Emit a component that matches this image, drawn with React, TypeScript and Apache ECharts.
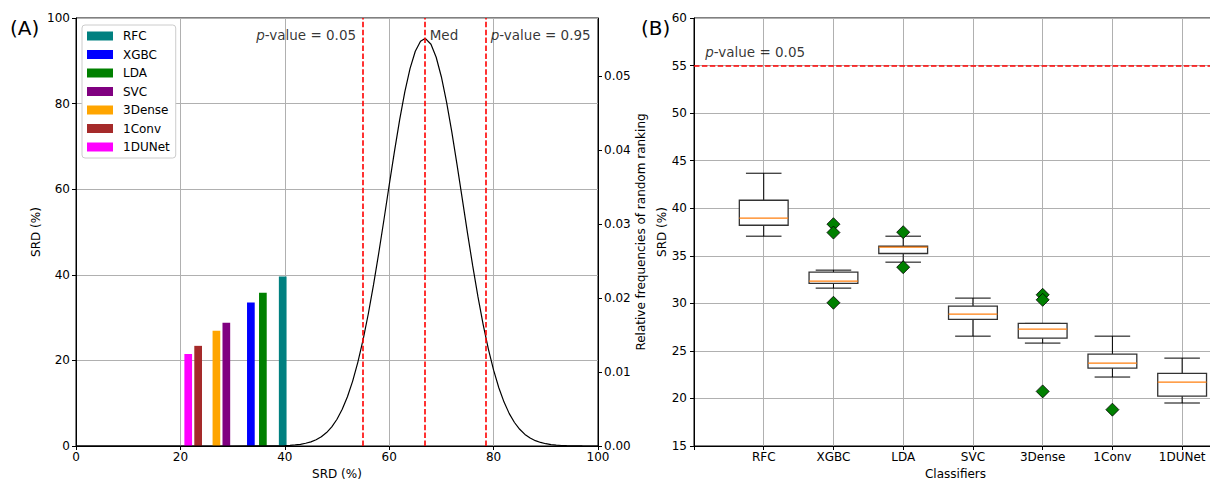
import React, { useEffect, useRef } from "react";
import * as echarts from "echarts";

// ---------- data ----------
const classifiers = ["RFC", "XGBC", "LDA", "SVC", "3Dense", "1Conv", "1DUNet"];
const barColors = ["#008080", "#0000ff", "#008000", "#800080", "#ffa500", "#a52a2a", "#ff00ff"];
const meanSRD = [39.6, 33.5, 35.8, 28.8, 26.9, 23.4, 21.5];

// random ranking distribution
const curveX = [0, 30, 36, 40, 41, 42, 43, 44, 45, 46, 47, 48, 49, 50, 51, 52, 53, 54, 55, 56, 57, 58, 59, 60, 61, 62, 63, 64, 65, 66, 66.8, 67, 68, 69, 70, 71, 72, 73, 74, 75, 76, 77, 78, 79, 80, 81, 82, 83, 84, 85, 86, 87, 88, 89, 90, 91, 92, 93, 94, 97, 100];
const curveY = [0, 0, 0.00001, 0.00005, 0.00009, 0.00015, 0.00023, 0.00037, 0.00056, 0.00085, 0.00126, 0.00182, 0.00259, 0.00362, 0.00496, 0.00666, 0.00878, 0.01135, 0.01439, 0.01789, 0.02182, 0.02611, 0.03064, 0.03528, 0.03983, 0.04412, 0.04794, 0.05109, 0.0534, 0.05476, 0.0551, 0.05508, 0.05435, 0.05259, 0.04992, 0.04648, 0.04245, 0.03803, 0.03342, 0.0288, 0.02436, 0.0202, 0.01643, 0.01311, 0.01026, 0.00788, 0.00594, 0.00438, 0.00318, 0.00226, 0.00157, 0.00108, 0.00072, 0.00048, 0.00031, 0.00019, 0.00012, 0.00007, 0.00004, 0.00001, 0];
const pLines = [55, 66.8, 78.5];

// box plot stats per classifier
const whiskerLow = [37.06, 31.6, 34.33, 26.55, 25.82, 22.25, 19.52];
const q1 = [38.21, 32.09, 35.24, 28.31, 26.34, 23.19, 20.25];
const median = [38.95, 32.33, 35.9, 28.87, 27.29, 23.72, 21.72];
const q3 = [40.84, 33.28, 36.0, 29.71, 27.89, 24.66, 22.63];
const whiskerHigh = [43.68, 33.49, 37.06, 30.55, 27.89, 26.55, 24.24];
const outlierIdx = [2, 2, 2, 3, 3, 5, 5, 5, 6];
const outlierVal = [38.32, 37.44, 30.06, 37.48, 33.8, 30.9, 30.37, 20.74, 18.82];
const pThreshold = 55;

const FONT = "DejaVu Sans";

export default function App() {
  const ref = useRef<HTMLDivElement>(null);
  useEffect(() => {
    if (!ref.current) return;
    const chart = echarts.init(ref.current, undefined, { renderer: "svg" });

    const axisCommon = {
      axisLine: { show: true, onZero: false, lineStyle: { color: "#000", width: 1 } },
      axisTick: { show: true, length: 4, lineStyle: { color: "#000", width: 1 } },
      axisLabel: { color: "#000", fontSize: 12, fontFamily: FONT },
      nameTextStyle: { color: "#000", fontSize: 12, fontFamily: FONT },
      splitLine: { show: true, lineStyle: { color: "#b0b0b0", width: 1 } },
    };
    const bottomName = { color: "#000", fontSize: 12, fontFamily: FONT, lineHeight: 12 };

    const richP = {
      i: { fontStyle: "italic", fontSize: 13.5, fontFamily: FONT, color: "#000" },
      n: { fontSize: 13.5, fontFamily: FONT, color: "#000" },
    };

    const barSeries = classifiers.map((c, i) => ({
      name: c,
      type: "bar",
      xAxisIndex: 0,
      yAxisIndex: 0,
      barWidth: 7.7,
      barGap: "-100%",
      itemStyle: { color: barColors[i] },
      data: [[meanSRD[i], meanSRD[i]]],
      z: 3,
    }));

    const boxData = classifiers.map((_, i) => [i + 1, whiskerLow[i], q1[i], median[i], q3[i], whiskerHigh[i]]);

    const option: any = {
      animation: false,
      textStyle: { fontFamily: FONT },
      grid: [
        { left: 76, top: 18, width: 522, height: 428, show: true, borderColor: "#000", borderWidth: 1, outerBoundsMode: "none", containLabel: false },
        { left: 694, top: 18, width: 523, height: 428, show: true, borderColor: "#000", borderWidth: 1, outerBoundsMode: "none", containLabel: false },
      ],
      legend: {
        data: classifiers,
        orient: "vertical",
        left: 82,
        top: 25,
        padding: [5, 6, 5, 5],
        itemWidth: 26,
        itemHeight: 9,
        itemGap: 6.5,
        icon: "rect",
        selectedMode: false,
        backgroundColor: "#fff",
        borderColor: "#cccccc",
        borderWidth: 1,
        borderRadius: 3,
        textStyle: { color: "#000", fontSize: 12, fontFamily: FONT, padding: [0, 0, 0, 5] },
      },
      xAxis: [
        {
          ...axisCommon,
          type: "value",
          gridIndex: 0,
          min: 0,
          max: 100,
          interval: 20,
          name: "SRD (%)",
          nameLocation: "middle",
          nameGap: 14,
          nameTextStyle: bottomName,
          axisLabel: { ...axisCommon.axisLabel, margin: 5 },
        },
        {
          ...axisCommon,
          type: "value",
          gridIndex: 1,
          min: 0,
          max: 7.5,
          interval: 1,
          name: "Classifiers",
          nameLocation: "middle",
          nameGap: 14,
          nameTextStyle: bottomName,
          axisLabel: {
            ...axisCommon.axisLabel,
            margin: 5,
            formatter: (v: number) => (Number.isInteger(v) && v >= 1 && v <= 7 ? classifiers[v - 1] : ""),
          },
        },
      ],
      yAxis: [
        {
          ...axisCommon,
          type: "value",
          gridIndex: 0,
          min: 0,
          max: 100,
          interval: 20,
          name: "SRD (%)",
          nameLocation: "middle",
          nameGap: 34,
          axisLabel: { ...axisCommon.axisLabel, margin: 6 },
        },
        {
          ...axisCommon,
          type: "value",
          gridIndex: 0,
          position: "right",
          min: 0,
          max: 0.0579,
          interval: 0.01,
          name: "Relative frequencies of random ranking",
          nameLocation: "middle",
          nameGap: 37,
          splitLine: { show: false },
          axisLabel: {
            ...axisCommon.axisLabel,
            margin: 6,
            showMaxLabel: false,
            formatter: (v: number) => v.toFixed(2),
          },
        },
        {
          ...axisCommon,
          type: "value",
          gridIndex: 1,
          min: 15,
          max: 60,
          interval: 5,
          name: "SRD (%)",
          nameLocation: "middle",
          nameGap: 22,
          axisLabel: { ...axisCommon.axisLabel, margin: 7 },
        },
      ],
      graphic: [
        { type: "text", left: 10, top: 18, style: { text: "(A)", fontSize: 20, fontFamily: FONT, fill: "#000" } },
        { type: "text", left: 641, top: 18, style: { text: "(B)", fontSize: 20, fontFamily: FONT, fill: "#000" } },
      ],
      series: [
        ...barSeries,
        {
          name: "random",
          type: "line",
          xAxisIndex: 0,
          yAxisIndex: 1,
          data: curveX.map((x, i) => [x, curveY[i]]),
          showSymbol: false,
          symbol: "none",
          lineStyle: { color: "#000", width: 1.2 },
          z: 4,
          markLine: {
            silent: true,
            symbol: "none",
            label: { show: false },
            lineStyle: { color: "#ff0000", width: 1.6, type: [5.5, 2.4] },
            data: pLines.map((v) => ({ xAxis: v })),
          },
        },
        {
          name: "annotA",
          type: "scatter",
          xAxisIndex: 0,
          yAxisIndex: 0,
          symbolSize: 0,
          silent: true,
          data: [
            { value: [pLines[0], 96], label: { position: "left", distance: 7, formatter: "{i|p}{n|-value = 0.05}", rich: richP } },
            { value: [pLines[1], 96], label: { position: "right", distance: 5, formatter: "{n|Med}", rich: richP } },
            { value: [pLines[2], 96], label: { position: "right", distance: 5, formatter: "{i|p}{n|-value = 0.95}", rich: richP } },
          ],
          label: { show: true },
        },
        {
          name: "boxes",
          type: "custom",
          xAxisIndex: 1,
          yAxisIndex: 2,
          data: boxData,
          encode: { x: 0, y: [1, 2, 3, 4, 5] },
          z: 3,
          renderItem: (params: any, api: any) => {
            const x = api.value(0);
            const pLow = api.coord([x, api.value(1)]);
            const pQ1 = api.coord([x, api.value(2)]);
            const pMed = api.coord([x, api.value(3)]);
            const pQ3 = api.coord([x, api.value(4)]);
            const pHigh = api.coord([x, api.value(5)]);
            const hb = api.size([0.7, 0])[0] / 2;
            const hc = api.size([0.51, 0])[0] / 2;
            const cx = pLow[0];
            const blk = { stroke: "#000", lineWidth: 1 };
            return {
              type: "group",
              children: [
                { type: "line", shape: { x1: cx, y1: pHigh[1], x2: cx, y2: pQ3[1] }, style: blk },
                { type: "line", shape: { x1: cx, y1: pQ1[1], x2: cx, y2: pLow[1] }, style: blk },
                { type: "line", shape: { x1: cx - hc, y1: pHigh[1], x2: cx + hc, y2: pHigh[1] }, style: blk },
                { type: "line", shape: { x1: cx - hc, y1: pLow[1], x2: cx + hc, y2: pLow[1] }, style: blk },
                {
                  type: "rect",
                  shape: { x: cx - hb, y: pQ3[1], width: 2 * hb, height: pQ1[1] - pQ3[1] },
                  style: { fill: "#fff", stroke: "#333", lineWidth: 1.3 },
                },
                { type: "line", shape: { x1: cx - hb, y1: pMed[1], x2: cx + hb, y2: pMed[1] }, style: { stroke: "#ff7f0e", lineWidth: 1.2 } },
              ],
            };
          },
        },
        {
          name: "outliers",
          type: "scatter",
          xAxisIndex: 1,
          yAxisIndex: 2,
          symbol: "diamond",
          symbolSize: 13,
          itemStyle: { color: "#008000", borderColor: "#000", borderWidth: 0.8, opacity: 1 },
          data: outlierIdx.map((c, i) => [c, outlierVal[i]]),
          z: 5,
        },
        {
          name: "threshold",
          type: "line",
          xAxisIndex: 1,
          yAxisIndex: 2,
          data: [],
          markLine: {
            silent: true,
            symbol: "none",
            label: { show: false },
            lineStyle: { color: "#ff0000", width: 1.6, type: [5.5, 2.4] },
            data: [{ yAxis: pThreshold }],
          },
        },
        {
          name: "annotB",
          type: "scatter",
          xAxisIndex: 1,
          yAxisIndex: 2,
          symbolSize: 0,
          silent: true,
          data: [
            { value: [0.16, 56.4], label: { position: "right", distance: 0, formatter: "{i|p}{n|-value = 0.05}", rich: richP } },
          ],
          label: { show: true },
        },
      ],
    };

    chart.setOption(option);
    return () => chart.dispose();
  }, []);

  return (
    <div
      ref={ref}
      style={{ position: "fixed", left: 0, top: 0, width: 1210, height: 479, background: "#fff" }}
    />
  );
}
